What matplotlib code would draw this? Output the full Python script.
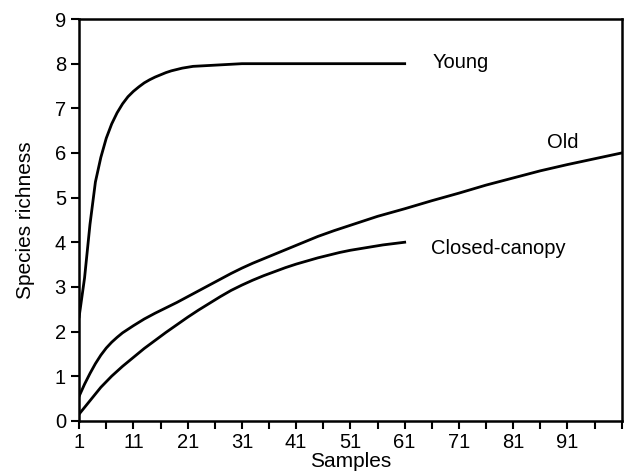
import matplotlib
matplotlib.use("Agg")
import matplotlib.pyplot as plt

plt.rcParams['font.family'] = ['Liberation Sans', 'DejaVu Sans']

# rarefaction curves
young_x = [1, 2, 3, 4, 5, 6, 7, 8, 9, 10, 11, 12, 13, 14, 15, 16, 17, 18, 20, 22, 25, 28, 31, 40, 50, 61]
young_y = [2.33, 3.2, 4.4, 5.35, 5.9, 6.33, 6.65, 6.9, 7.1, 7.26, 7.38, 7.48, 7.57, 7.64, 7.7, 7.75,
           7.8, 7.84, 7.9, 7.94, 7.96, 7.98, 8.0, 8.0, 8.0, 8.0]

old_x = [1, 2, 3, 4, 5, 6, 7, 8, 9, 10, 11, 13, 15, 17, 19, 21, 23, 25, 27, 29, 31, 33, 35, 37, 39,
         41, 43, 45, 48, 51, 56, 61, 66, 71, 76, 81, 86, 91, 96, 101]
old_y = [0.55, 0.82, 1.06, 1.28, 1.47, 1.63, 1.76, 1.87, 1.97, 2.05, 2.13, 2.28, 2.41, 2.53, 2.65, 2.78,
         2.91, 3.04, 3.17, 3.3, 3.42, 3.53, 3.63, 3.73, 3.83, 3.93, 4.03, 4.13, 4.26, 4.38, 4.58, 4.75,
         4.93, 5.1, 5.28, 5.44, 5.6, 5.74, 5.87, 6.0]

closed_x = [1, 3, 5, 7, 9, 11, 13, 15, 17, 19, 21, 23, 25, 27, 29, 31, 33, 35, 37, 39, 41, 43, 45,
            47, 49, 51, 53, 55, 57, 59, 61]
closed_y = [0.15, 0.45, 0.75, 1.0, 1.22, 1.42, 1.62, 1.8, 1.98, 2.15, 2.32, 2.48, 2.63, 2.78, 2.92, 3.04,
            3.15, 3.25, 3.34, 3.43, 3.51, 3.58, 3.65, 3.71, 3.77, 3.82, 3.86, 3.9, 3.94, 3.97, 4.0]

major_ticks = [1, 11, 21, 31, 41, 51, 61, 71, 81, 91]
minor_ticks = [6, 16, 26, 36, 46, 56, 66, 76, 86, 96, 101]

fig = plt.figure(figsize=(6.28, 4.76), dpi=100)
ax = fig.add_axes([0.126, 0.116, 0.864, 0.844])

for xs, ys in [(young_x, young_y), (old_x, old_y), (closed_x, closed_y)]:
    ax.plot(xs, ys, color='black', lw=2.0, solid_joinstyle='round')

ax.text(66.1, 8.03, 'Young', fontsize=14.5, va='center', ha='left')
ax.text(87.3, 6.24, 'Old', fontsize=14.5, va='center', ha='left')
ax.text(65.8, 3.85, 'Closed-canopy', fontsize=14.5, va='center', ha='left')

ax.set_xlim(1, 101)
ax.set_ylim(0, 9)
ax.set_xticks(major_ticks)
ax.set_xticks(minor_ticks, minor=True)
ax.set_yticks(range(0, 10))
ax.tick_params(which='both', direction='out', length=6, width=1.5, labelsize=14.5, colors='black')
ax.tick_params(axis='x', which='both', pad=3)

for sp in ax.spines.values():
    sp.set_linewidth(1.8)

ax.set_xlabel('Samples', fontsize=15, labelpad=0)
ax.set_ylabel('Species richness', fontsize=15, labelpad=14)

plt.savefig('out.png', dpi=100)
